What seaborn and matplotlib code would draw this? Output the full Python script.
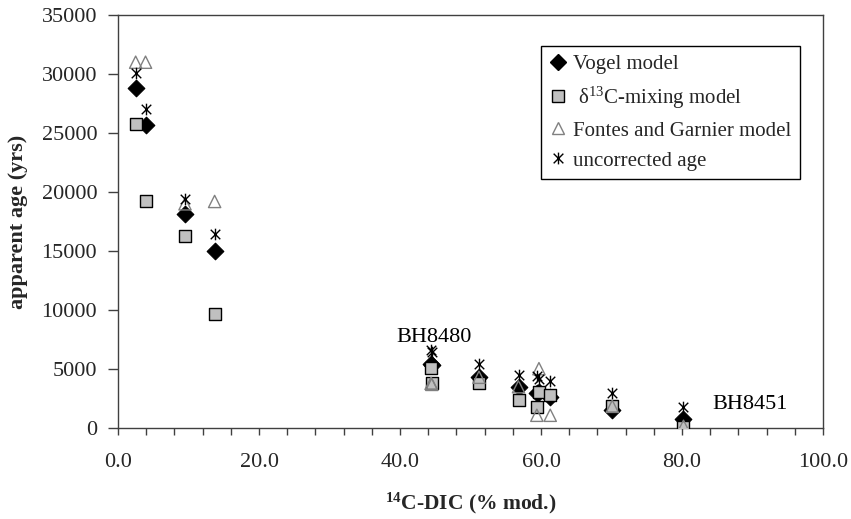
import numpy as np
import pandas as pd
import matplotlib
matplotlib.use("Agg")
import matplotlib.pyplot as plt
from matplotlib.path import Path
from matplotlib.ticker import MultipleLocator, FormatStrFormatter
from matplotlib.lines import Line2D
import seaborn as sns

# 14C activity of DIC (% modern) per sample
dic_14c = [2.5, 3.9, 9.5, 13.7, 44.4, 44.5, 51.2, 56.8, 59.7, 59.4, 61.3, 70.1, 80.2]

# apparent ages (yrs) from each correction model
vogel_age = [28800, 25700, 18100, 15000, 5450, 5300, 4320, 3470, 3050, 2950, 2650, 1560, 800]
mixing_age = [25800, 19200, 16300, 9700, 5050, 3780, 3780, 2350, 3050, 1780, 2830, 1840, 100]
fontes_age = [31000, 31000, 19000, 19200, 3780, 3700, 4300, 3500, 5030, 1080, 1080, 1840, 150]
uncorrected_age = [30100, 27000, 19400, 16400, 6600, 6450, 5450, 4470, 4190, 4400, 3960, 2970, 1800]

series_labels = ["Vogel model", " δ$^{13}$C-mixing model",
                 "Fontes and Garnier model", "uncorrected age"]

point_labels = ["BH8480", "BH8451"]
point_label_xy = [(39.5, 7300), (84.3, 1650)]

x_ticks = [0, 20, 40, 60, 80, 100]
y_ticks = [0, 5000, 10000, 15000, 20000, 25000, 30000, 35000]

df = pd.DataFrame({
    "dic": dic_14c,
    "vogel": vogel_age,
    "mixing": mixing_age,
    "fontes": fontes_age,
    "uncorr": uncorrected_age,
})

sns.set_theme(style="ticks")
plt.rcParams["font.family"] = ["Liberation Serif", "DejaVu Serif"]
plt.rcParams["mathtext.fontset"] = "custom"
plt.rcParams["mathtext.rm"] = "Liberation Serif"
plt.rcParams["mathtext.bf"] = "Liberation Serif:bold"
plt.rcParams["mathtext.it"] = "Liberation Serif:italic"

# asterisk made of a vertical bar and an X
star_path = Path(
    [(0, -1), (0, 1), (-0.82, -0.82), (0.82, 0.82), (-0.82, 0.82), (0.82, -0.82)],
    [Path.MOVETO, Path.LINETO, Path.MOVETO, Path.LINETO, Path.MOVETO, Path.LINETO],
)

fig = plt.figure(figsize=(8.51, 5.19), dpi=100)
ax = fig.add_axes([0.1387, 0.1753, 0.8285, 0.7958])

sns.scatterplot(data=df, x="dic", y="vogel", marker="D", s=72, color="black",
                edgecolor="black", linewidth=0.8, ax=ax, zorder=3)
sns.scatterplot(data=df, x="dic", y="mixing", marker="s", s=80, color="#c0c0c0",
                edgecolor="black", linewidth=1.0, ax=ax, zorder=4)
sns.scatterplot(data=df, x="dic", y="fontes", marker="^", s=78, color="none",
                edgecolor="#808080", linewidth=1.0, ax=ax, zorder=5)
sns.scatterplot(data=df, x="dic", y="uncorr", marker=star_path, s=70, color="black",
                edgecolor="black", linewidth=1.0, ax=ax, zorder=6)

for text, (tx, ty) in zip(point_labels, point_label_xy):
    ax.text(tx, ty, text, fontsize=16, ha="left", va="baseline", color="black", zorder=7)

ax.set_xlim(0, 100)
ax.set_ylim(0, 35000)
ax.set_xticks(x_ticks)
ax.set_yticks(y_ticks)
ax.xaxis.set_minor_locator(MultipleLocator(4))
ax.xaxis.set_major_formatter(FormatStrFormatter("%.1f"))

ax.tick_params(axis="x", which="both", direction="out", length=5, width=1,
               color="#404040", labelsize=16, pad=13)
ax.tick_params(axis="y", which="both", direction="out", length=7, width=1,
               color="#404040", labelsize=16, pad=8)
for side in ["left", "bottom", "top", "right"]:
    ax.spines[side].set_visible(True)
    ax.spines[side].set_color("#404040")
    ax.spines[side].set_linewidth(1.0)

ax.set_xlabel(r"$^{\mathbf{14}}$C-DIC (% mod.)", fontsize=15.5, fontweight="bold")
ax.set_ylabel("apparent age (yrs)", fontsize=16, fontweight="bold")
ax.xaxis.set_label_coords(0.5, -0.152)
ax.yaxis.set_label_coords(-0.128, 0.5)

handles = [
    Line2D([], [], linestyle="none", marker="D", markersize=8.5, markerfacecolor="black",
           markeredgecolor="black"),
    Line2D([], [], linestyle="none", marker="s", markersize=8.5, markerfacecolor="#c0c0c0",
           markeredgecolor="black"),
    Line2D([], [], linestyle="none", marker="^", markersize=8.5, markerfacecolor="none",
           markeredgecolor="#808080"),
    Line2D([], [], linestyle="none", marker=star_path, markersize=8.5,
           markerfacecolor="black", markeredgecolor="black"),
]
leg = ax.legend(handles, series_labels, loc="upper left", bbox_to_anchor=(0.600, 0.925),
                borderaxespad=0, fontsize=15, frameon=True, fancybox=False,
                edgecolor="black", framealpha=1, handlelength=0.8, handletextpad=0.35,
                labelspacing=0.5, borderpad=0.4)
leg.get_frame().set_linewidth(1.0)

fig.savefig("out.png", dpi=100)
